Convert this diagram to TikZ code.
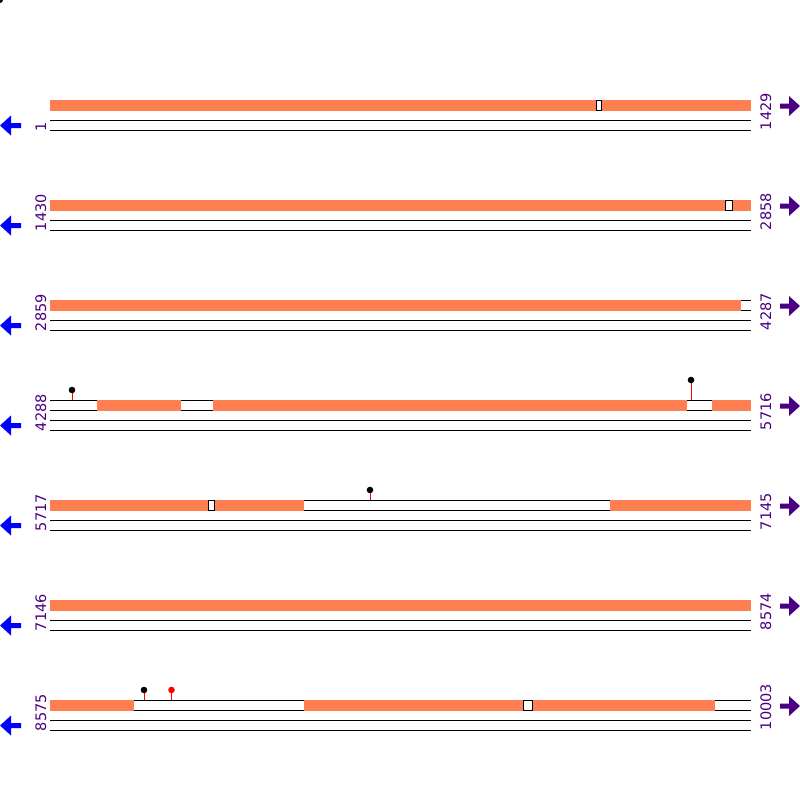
\documentclass[tikz,border=0pt]{standalone}
\usepackage{fontspec}
\setmainfont{DejaVu Sans}
\definecolor{bar}{RGB}{255,127,80}
\definecolor{lab}{RGB}{75,0,130}
\definecolor{larr}{RGB}{0,0,255}
\tikzset{
  trackline/.style={draw=black,line width=1pt},
  orangebar/.style={fill=bar,draw=none},
  gapbox/.style={fill=white,draw=black,line width=0.5pt},
  stem/.style={draw=red,line width=1pt},
  numlabel/.style={text=lab,font=\fontsize{14.5}{14.5}\selectfont,rotate=90,anchor=base west,inner sep=0pt,outer sep=0pt},
}
\newcommand{\trackrow}[3]{%
  \foreach \dy in {0,10,20,30} {\draw[trackline] (50,#1+\dy) -- (751,#1+\dy);}
  \fill[larr] (0,#1+25.5) -- (11,#1+15.5) -- (11,#1+23) -- (21,#1+23) -- (21,#1+28) -- (11,#1+28) -- (11,#1+35.5) -- cycle;
  \fill[lab] (800,#1+6) -- (789,#1-4) -- (789,#1+3.5) -- (780,#1+3.5) -- (780,#1+8.5) -- (789,#1+8.5) -- (789,#1+16) -- cycle;
  \node[numlabel] (L#1) at (46,#1+31) {#2};
  \node[numlabel] (R#1) at (771,#1+30) {#3};
}
\newcommand{\obar}[3]{\fill[orangebar] (#2,#1-0.5) rectangle (#3,#1+10.5);}
\newcommand{\gbox}[3]{\draw[gapbox] (#2,#1) rectangle (#3,#1+10);}
\newcommand{\lolli}[4]{\draw[stem] (#1,#2) -- (#1,#3); \fill[#4] (#1,#2) circle (3.3);}
\begin{document}
\begin{tikzpicture}[x=1pt,y=-1pt]
\useasboundingbox (0,0) rectangle (800,800);
\fill[black] (0,0) circle (3);
% row 1
\trackrow{100}{1}{1429}
\obar{100}{50}{596}\obar{100}{601}{751}\gbox{100}{596}{601}
% row 2
\trackrow{200}{1430}{2858}
\obar{200}{50}{725}\obar{200}{732}{751}\gbox{200}{725}{732}
% row 3
\trackrow{300}{2859}{4287}
\obar{300}{50}{741}
% row 4
\trackrow{400}{4288}{5716}
\obar{400}{97}{181}\obar{400}{213}{687}\obar{400}{712}{751}
\lolli{72}{390}{400}{black}
\lolli{691}{380}{400}{black}
% row 5
\trackrow{500}{5717}{7145}
\obar{500}{50}{208}\obar{500}{214}{304}\obar{500}{610}{751}\gbox{500}{208}{214}
\lolli{370}{490}{500}{black}
% row 6
\trackrow{600}{7146}{8574}
\obar{600}{50}{751}
% row 7
\trackrow{700}{8575}{10003}
\obar{700}{50}{134}\obar{700}{304}{523}\obar{700}{532}{715}\gbox{700}{523}{532}
\lolli{144}{690}{700}{black}
\lolli{171.5}{690}{700}{red}
\end{tikzpicture}
\end{document}
